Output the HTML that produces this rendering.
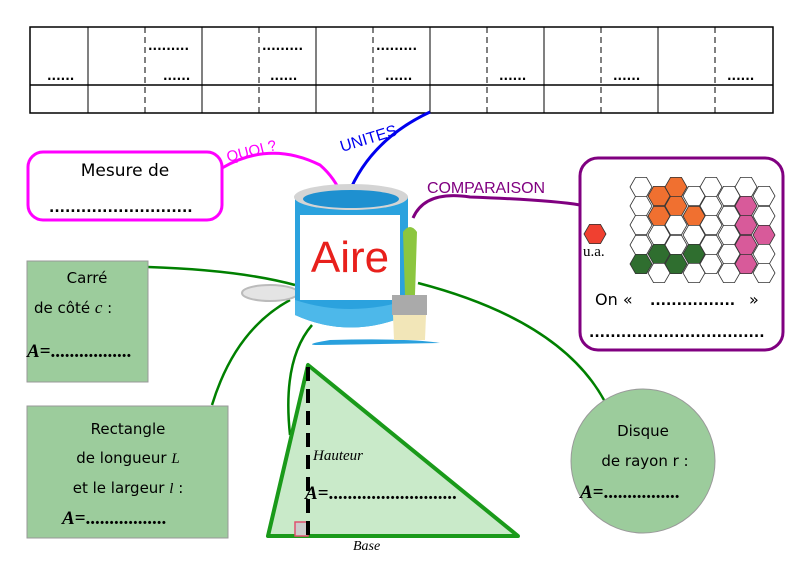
<!DOCTYPE html>
<html><head><meta charset="utf-8"><style>
body{margin:0;background:#fff;width:800px;height:565px;overflow:hidden;font-family:"DejaVu Sans","Liberation Sans",sans-serif}
</style></head><body>
<svg width="800" height="565" viewBox="0 0 800 565" xmlns="http://www.w3.org/2000/svg" font-family="DejaVu Sans, Liberation Sans, sans-serif">
<g stroke="#000" fill="none">
<rect x="30" y="27" width="743" height="86" stroke-width="1.5"/>
<line x1="30" y1="85" x2="773" y2="85" stroke-width="1.5"/>
<g stroke-width="1">
<line x1="88" y1="27" x2="88" y2="113"/><line x1="202" y1="27" x2="202" y2="113"/><line x1="316" y1="27" x2="316" y2="113"/><line x1="430" y1="27" x2="430" y2="113"/><line x1="544" y1="27" x2="544" y2="113"/><line x1="658" y1="27" x2="658" y2="113"/>
</g>
<g stroke-dasharray="6,4" stroke-width="1">
<line x1="145" y1="27" x2="145" y2="113"/><line x1="259" y1="27" x2="259" y2="113"/><line x1="373" y1="27" x2="373" y2="113"/><line x1="487" y1="27" x2="487" y2="113"/><line x1="601" y1="27" x2="601" y2="113"/><line x1="715" y1="27" x2="715" y2="113"/>
</g></g>
<g font-size="12" font-weight="bold" fill="#000">
<text x="47" y="80">......</text>
<text x="148" y="50">.........</text><text x="163" y="80">......</text>
<text x="262" y="50">.........</text><text x="270" y="80">......</text>
<text x="376" y="50">.........</text><text x="385" y="80">......</text>
<text x="499" y="80">......</text><text x="613" y="80">......</text><text x="727" y="80">......</text>
</g>
<g fill="none" stroke-width="3">
<path d="M222 168 Q270 140 320 165 Q335 178 342 196" stroke="#f0f"/>
<path d="M430 112 Q370 140 348 195" stroke="#0000ee"/>
<path d="M413 218 Q425 190 470 197 Q550 200 580 205" stroke="#800080"/>
<g stroke="#008000" stroke-width="2.5">
<path d="M148 267 Q240 270 295 285"/>
<path d="M212 405 Q235 330 290 300"/>
<path d="M290 435 Q282 360 312 325"/>
<path d="M418 283 Q560 320 604 400"/>
</g></g>
<text x="228" y="162" font-family="Liberation Sans, sans-serif" font-size="15" fill="#f0f" transform="rotate(-14 228 162)">QUOI ?</text>
<text x="342" y="152" font-family="Liberation Sans, sans-serif" font-size="16" fill="#0000ee" transform="rotate(-17 342 152)">UNITES</text>
<text x="427" y="193" font-family="Liberation Sans, sans-serif" font-size="16" fill="#800080" textLength="118">COMPARAISON</text>
<ellipse cx="270" cy="293" rx="28" ry="8" fill="#e4e4e4" stroke="#bbb" stroke-width="2"/>
<path d="M330 340 Q300 345 320 345 L440 343 Q410 338 330 340Z" fill="#29a0dd"/>
<path d="M295 197 L295 315 Q350 340 408 315 L408 197Z" fill="#2ba2de"/>
<rect x="300" y="215" width="100" height="85" fill="#fff"/>
<path d="M295 300 Q350 318 408 300 L408 315 Q350 340 295 315Z" fill="#4db8ea"/>
<ellipse cx="351" cy="197" rx="57" ry="13" fill="#d4d4d4"/>
<ellipse cx="351" cy="199" rx="48" ry="9" fill="#1e90d0"/>
<text x="350" y="272" font-family="Liberation Sans, sans-serif" font-size="44" fill="#e8201c" text-anchor="middle">Aire</text>
<path d="M403 232 Q410 222 417 232 L415 295 L405 295Z" fill="#8cc63f"/>
<rect x="392" y="295" width="35" height="20" fill="#aaa"/>
<path d="M393 315 L426 315 L425 340 L394 340Z" fill="#f2e6b8"/>
<rect x="28" y="152" width="194" height="68" rx="15" fill="#fff" stroke="#f0f" stroke-width="3"/>
<text x="125" y="176" font-size="17" text-anchor="middle">Mesure de</text>
<text x="49" y="212" font-size="14" font-weight="bold">...........................</text>
<rect x="27" y="261" width="121" height="121" fill="#9ccc9c" stroke="#999"/>
<text x="87" y="283" font-size="15" text-anchor="middle">Carré</text>
<text x="34" y="313" font-size="15">de côté <tspan font-family="Liberation Serif, serif" font-style="italic" font-size="17">c</tspan> :</text>
<text x="27" y="357" font-family="Liberation Serif, serif" font-size="19" font-weight="bold" font-style="italic">A<tspan font-style="normal">=.................</tspan></text>
<rect x="27" y="406" width="201" height="132" fill="#9ccc9c" stroke="#999"/>
<text x="128" y="434" font-size="15" text-anchor="middle">Rectangle</text>
<text x="128" y="463" font-size="15" text-anchor="middle">de longueur <tspan font-family="Liberation Serif, serif" font-style="italic">L</tspan></text>
<text x="128" y="493" font-size="15" text-anchor="middle">et le largeur <tspan font-family="Liberation Serif, serif" font-style="italic">l</tspan>  :</text>
<text x="62" y="524" font-family="Liberation Serif, serif" font-size="19" font-weight="bold" font-style="italic">A<tspan font-style="normal">=.................</tspan></text>
<polygon points="308,365 268,536 518,536" fill="#c9eac9" stroke="#1a9a1a" stroke-width="4" stroke-linejoin="round"/>
<rect x="295" y="522" width="13" height="14" fill="#ccc" stroke="#e05070" stroke-width="1.5"/>
<line x1="308" y1="367" x2="308" y2="535" stroke="#000" stroke-width="4" stroke-dasharray="14,8"/>
<text x="313" y="460" font-family="Liberation Serif, serif" font-style="italic" font-size="15">Hauteur</text>
<text x="305" y="499" font-family="Liberation Serif, serif" font-size="19" font-weight="bold" font-style="italic">A<tspan font-style="normal">=...........................</tspan></text>
<text x="353" y="550" font-family="Liberation Serif, serif" font-style="italic" font-size="14">Base</text>
<circle cx="643" cy="461" r="72" fill="#9ccc9c" stroke="#999"/>
<text x="643" y="436" font-size="15" text-anchor="middle">Disque</text>
<text x="645" y="466" font-size="15" text-anchor="middle">de rayon r  :</text>
<text x="580" y="498" font-family="Liberation Serif, serif" font-size="19" font-weight="bold" font-style="italic">A<tspan font-style="normal">=................</tspan></text>
<rect x="580" y="158" width="203" height="192" rx="18" fill="#fff" stroke="#800080" stroke-width="3"/>
<defs><polygon id="h" points="-11,0 -5.5,-9.6 5.5,-9.6 11,0 5.5,9.6 -5.5,9.6" stroke="#333" stroke-width="0.8"/></defs>
<use href="#h" x="595" y="234" fill="#f04030"/>
<text x="583" y="256" font-family="Liberation Serif, serif" font-size="15">u.a.</text>
<g>
<use href="#h" x="641" y="187" fill="#fff"/><use href="#h" x="641" y="206" fill="#fff"/><use href="#h" x="641" y="225" fill="#fff"/><use href="#h" x="641" y="245" fill="#fff"/><use href="#h" x="641" y="264" fill="#2f6e2f"/>
<use href="#h" x="659" y="196" fill="#f07030"/><use href="#h" x="659" y="216" fill="#f07030"/><use href="#h" x="659" y="235" fill="#fff"/><use href="#h" x="659" y="254" fill="#2f6e2f"/><use href="#h" x="659" y="273" fill="#fff"/>
<use href="#h" x="676" y="187" fill="#f07030"/><use href="#h" x="676" y="206" fill="#f07030"/><use href="#h" x="676" y="225" fill="#fff"/><use href="#h" x="676" y="245" fill="#fff"/><use href="#h" x="676" y="264" fill="#2f6e2f"/>
<use href="#h" x="694" y="196" fill="#fff"/><use href="#h" x="694" y="216" fill="#f07030"/><use href="#h" x="694" y="235" fill="#fff"/><use href="#h" x="694" y="254" fill="#2f6e2f"/><use href="#h" x="694" y="273" fill="#fff"/>
<use href="#h" x="711" y="187" fill="#fff"/><use href="#h" x="711" y="206" fill="#fff"/><use href="#h" x="711" y="225" fill="#fff"/><use href="#h" x="711" y="245" fill="#fff"/><use href="#h" x="711" y="264" fill="#fff"/>
<use href="#h" x="729" y="196" fill="#fff"/><use href="#h" x="729" y="216" fill="#fff"/><use href="#h" x="729" y="235" fill="#fff"/><use href="#h" x="729" y="254" fill="#fff"/><use href="#h" x="729" y="273" fill="#fff"/>
<use href="#h" x="746" y="187" fill="#fff"/><use href="#h" x="746" y="206" fill="#d85a9a"/><use href="#h" x="746" y="225" fill="#d85a9a"/><use href="#h" x="746" y="245" fill="#d85a9a"/><use href="#h" x="746" y="264" fill="#d85a9a"/>
<use href="#h" x="764" y="196" fill="#fff"/><use href="#h" x="764" y="216" fill="#fff"/><use href="#h" x="764" y="235" fill="#d85a9a"/><use href="#h" x="764" y="254" fill="#fff"/><use href="#h" x="764" y="273" fill="#fff"/>
</g>
<text x="595" y="305" font-size="16">On «</text>
<text x="650" y="305" font-size="14" font-weight="bold">................</text>
<text x="749" y="305" font-size="16">»</text>
<text x="589" y="337" font-size="14" font-weight="bold">.................................</text>
</svg>
</body></html>
